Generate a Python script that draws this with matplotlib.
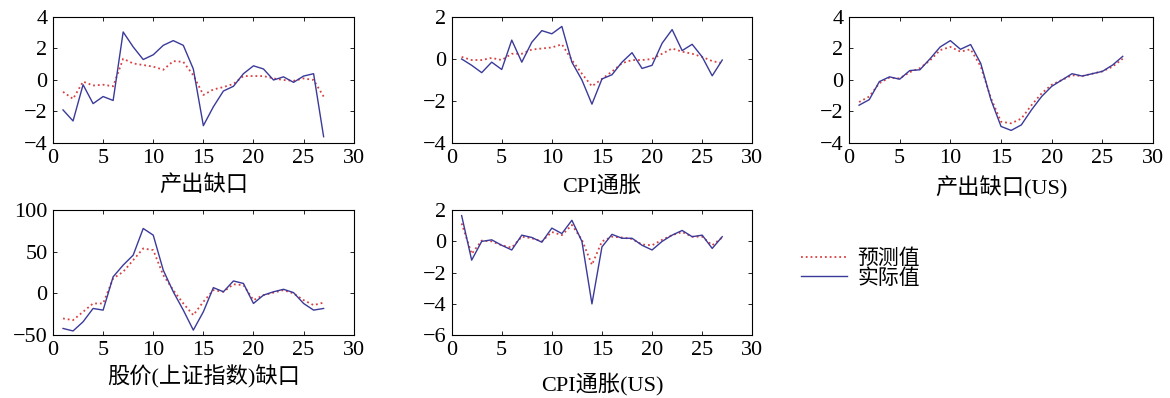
import matplotlib
matplotlib.use("Agg")
import matplotlib.pyplot as plt

plt.rcParams['font.family'] = ['Liberation Serif', 'Noto Sans CJK SC']
plt.rcParams['font.size'] = 16
plt.rcParams['axes.unicode_minus'] = True

t = list(range(1, 28))

# 产出缺口
gap_act = [-1.9, -2.6, -0.3, -1.5, -1.05, -1.3, 3.05, 2.1, 1.3, 1.6, 2.2, 2.5, 2.2, 0.7,
           -2.9, -1.7, -0.7, -0.4, 0.4, 0.9, 0.7, 0.0, 0.2, -0.15, 0.25, 0.4, -3.6]
gap_pred = [-0.75, -1.2, -0.1, -0.35, -0.3, -0.4, 1.35, 1.05, 0.95, 0.85, 0.65, 1.2, 1.15, 0.3,
            -0.95, -0.6, -0.45, -0.25, 0.25, 0.25, 0.25, 0.1, 0.0, -0.05, 0.1, 0.0, -1.05]

# CPI通胀
cpi_act = [0.0, -0.3, -0.65, -0.15, -0.5, 0.9, -0.15, 0.8, 1.35, 1.2, 1.55, -0.15, -1.0, -2.15,
           -0.95, -0.75, -0.15, 0.3, -0.45, -0.3, 0.75, 1.4, 0.4, 0.7, 0.1, -0.8, -0.05]
cpi_pred = [0.1, -0.05, -0.05, 0.05, -0.05, 0.25, 0.25, 0.45, 0.5, 0.55, 0.7, -0.05, -0.7, -1.3,
            -0.95, -0.6, -0.2, -0.05, -0.05, 0.0, 0.25, 0.5, 0.35, 0.25, 0.1, -0.1, -0.2]

# 产出缺口(US)
gapus_act = [-1.6, -1.25, -0.1, 0.2, 0.05, 0.6, 0.65, 1.35, 2.1, 2.5, 1.95, 2.25, 1.05, -1.25,
             -2.95, -3.2, -2.85, -1.9, -1.05, -0.4, 0.0, 0.4, 0.25, 0.4, 0.55, 0.95, 1.5]
gapus_pred = [-1.4, -1.05, -0.2, 0.15, 0.1, 0.5, 0.75, 1.25, 1.9, 2.1, 1.8, 1.95, 0.85, -1.15,
              -2.65, -2.75, -2.45, -1.6, -0.85, -0.3, 0.0, 0.3, 0.25, 0.4, 0.55, 0.85, 1.35]

# 股价(上证指数)缺口
stock_act = [-42, -45, -34, -18, -20, 20, 34, 46, 78, 70, 28, 2, -20, -44,
             -22, 7, 2, 15, 12, -12, -2, 2, 5, 1, -12, -20, -18]
stock_pred = [-30, -32, -22, -12, -12, 18, 26, 40, 54, 52, 22, 4, -12, -26,
              -10, 4, 2, 11, 10, -8, -2, 1, 4, 0, -8, -14, -11]

# CPI通胀(US)
cpius_act = [1.65, -1.2, 0.0, 0.1, -0.25, -0.55, 0.4, 0.25, -0.05, 0.85, 0.5, 1.35, 0.0, -4.0,
             -0.35, 0.45, 0.2, 0.2, -0.25, -0.55, 0.0, 0.4, 0.7, 0.3, 0.4, -0.45, 0.3]
cpius_pred = [1.15, -0.8, 0.05, 0.0, -0.25, -0.4, 0.3, 0.2, 0.0, 0.6, 0.4, 1.05, 0.1, -1.5,
              0.0, 0.3, 0.25, 0.15, -0.2, -0.25, 0.1, 0.4, 0.6, 0.3, 0.3, -0.25, 0.25]

panels = [
    ("产出缺口", gap_act, gap_pred, (-4, 4), [-4, -2, 0, 2, 4], [0.0453, 0.6407, 0.257, 0.3166], 6),
    ("CPI通胀", cpi_act, cpi_pred, (-4, 2), [-4, -2, 0, 2], [0.386, 0.6407, 0.257, 0.3166], 6),
    ("产出缺口(US)", gapus_act, gapus_pred, (-4, 4), [-4, -2, 0, 2, 4], [0.7256, 0.6407, 0.26, 0.3166], 6),
    ("股价(上证指数)缺口", stock_act, stock_pred, (-50, 100), [-50, 0, 50, 100], [0.0453, 0.158, 0.257, 0.314], 4),
    ("CPI通胀(US)", cpius_act, cpius_pred, (-6, 2), [-6, -4, -2, 0, 2], [0.386, 0.158, 0.257, 0.314], 9),
]

blue = '#3a3a9a'
red = '#d84040'

fig = plt.figure(figsize=(11.7, 3.98), dpi=100)

for title, act, pred, ylim, yticks, pos, pad in panels:
    ax = fig.add_axes(pos)
    l1, = ax.plot(t, pred, ':', color=red, lw=1.3, label='预测值')
    l2, = ax.plot(t, act, '-', color=blue, lw=1.0, label='实际值')
    ax.set_xlim(0, 30)
    ax.set_ylim(*ylim)
    ax.set_xticks([0, 5, 10, 15, 20, 25, 30])
    ax.set_yticks(yticks)
    ax.tick_params(direction='in', top=True, right=True, length=3, width=0.6, pad=4)
    for s in ax.spines.values():
        s.set_linewidth(0.8)
    ax.set_xlabel(title, labelpad=pad)

fig.legend(handles=[l1, l2], loc='upper left', bbox_to_anchor=(0.672, 0.41),
           frameon=False, handlelength=2.2, handletextpad=0.5, labelspacing=0.0,
           fontsize=15, borderpad=0.2)

fig.savefig("out.png", dpi=100)
